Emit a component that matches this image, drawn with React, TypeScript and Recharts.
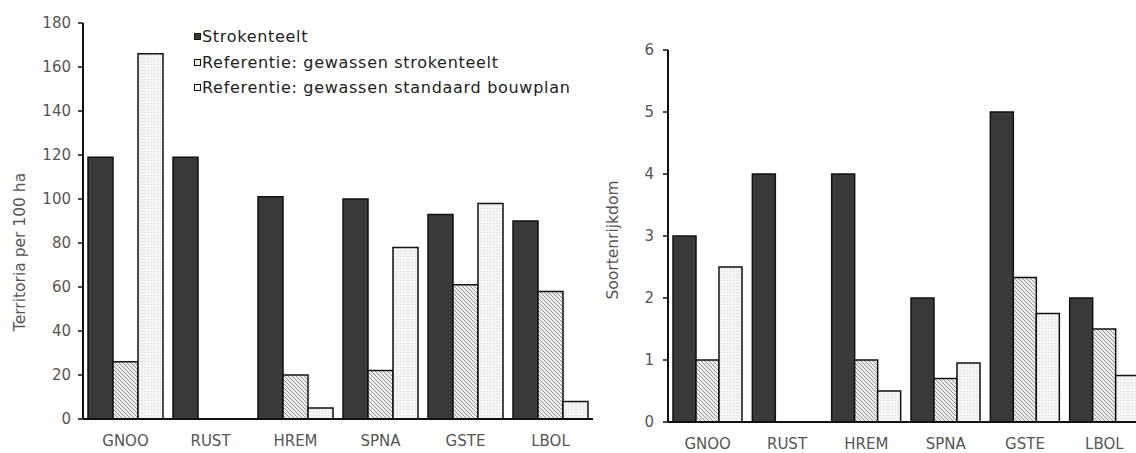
import React from 'react';
import { BarChart, Bar, XAxis, YAxis } from 'recharts';

const CATEGORIES = ['GNOO', 'RUST', 'HREM', 'SPNA', 'GSTE', 'LBOL'];

// territoria per 100 ha
const TERR_STROKEN = [119, 119, 101, 100, 93, 90];
const TERR_REF_STROKEN = [26, null, 20, 22, 61, 58];
const TERR_REF_STANDAARD = [166, null, 5, 78, 98, 8];
const TERR_TICKS = [0, 20, 40, 60, 80, 100, 120, 140, 160, 180];

// soortenrijkdom
const SOORT_STROKEN = [3, 4, 4, 2, 5, 2];
const SOORT_REF_STROKEN = [1, null, 1, 0.7, 2.33, 1.5];
const SOORT_REF_STANDAARD = [2.5, null, 0.5, 0.95, 1.75, 0.75];
const SOORT_TICKS = [0, 1, 2, 3, 4, 5, 6];

const SERIES_NAMES = [
  'Strokenteelt',
  'Referentie: gewassen strokenteelt',
  'Referentie: gewassen standaard bouwplan',
];

const terrData = CATEGORIES.map((c, i) => ({
  cat: c, a: TERR_STROKEN[i], b: TERR_REF_STROKEN[i], c: TERR_REF_STANDAARD[i],
}));
const soortData = CATEGORIES.map((c, i) => ({
  cat: c, a: SOORT_STROKEN[i], b: SOORT_REF_STROKEN[i], c: SOORT_REF_STANDAARD[i],
}));

const FONT = '"DejaVu Sans", Verdana, sans-serif';
const TEXT = '#555';

function Patterns({ id }: { id: string }) {
  return (
    <defs>
      <pattern id={`hatch-${id}`} patternUnits="userSpaceOnUse" width="4" height="4">
        <rect width="4" height="4" fill="#ececec" />
        <path d="M-1,-1 L5,5 M-1,3 L1,5 M3,-1 L5,1" stroke="#8a8a8a" strokeWidth="0.9" />
      </pattern>
      <pattern id={`dots-${id}`} patternUnits="userSpaceOnUse" width="3" height="3">
        <rect width="3" height="3" fill="#f4f4f4" />
        <rect x="1" y="1" width="1" height="1" fill="#dcdcdc" />
      </pattern>
    </defs>
  );
}

function AxisTitle({ x, y, text }: { x: number; y: number; text: string }) {
  return (
    <text x={x} y={y} transform={`rotate(-90 ${x} ${y})`} textAnchor="middle"
      dominantBaseline="central" fontFamily={FONT} fontSize={15.5} fill={TEXT}>
      {text}
    </text>
  );
}

function LegendBox() {
  const marks = ['#3a3a3a', '#ececec', '#f6f6f6'];
  return (
    <div style={{ position: 'absolute', left: 194, top: 24, fontFamily: FONT, fontSize: 16, color: '#222' }}>
      {SERIES_NAMES.map((n, i) => (
        <div key={n} style={{ display: 'flex', alignItems: 'center', height: 25.5, whiteSpace: 'nowrap' }}>
          <span style={{
            display: 'inline-block', width: 5, height: 5, background: marks[i],
            border: '1.5px solid #111', marginRight: 1,
          }} />
          <span style={{ letterSpacing: 0.7 }}>{n}</span>
        </div>
      ))}
    </div>
  );
}

const barStroke = { stroke: '#111', strokeWidth: 1.5 };

export default function App() {
  return (
    <div style={{ position: 'absolute', left: 0, top: 0, width: 1136, height: 453, overflow: 'hidden', background: '#fff' }}>
      <div style={{ position: 'absolute', left: 0, top: 0 }}>
        <BarChart width={600} height={453} data={terrData} margin={{ top: 23, right: 7, bottom: 0, left: 0 }}
          barCategoryGap={5} barGap={0}>
          <Patterns id="t" />
          <XAxis dataKey="cat" height={34} tickLine={false} tickSize={0} tickMargin={16}
            axisLine={{ stroke: '#111', strokeWidth: 2 }}
            tick={{ fontFamily: FONT, fontSize: 15, fill: TEXT }} interval={0} />
          <YAxis width={83} domain={[0, 180]} ticks={TERR_TICKS} interval={0} tickSize={5} tickMargin={7}
            axisLine={{ stroke: '#111', strokeWidth: 2 }} tickLine={{ stroke: '#111', strokeWidth: 1.5 }}
            tick={{ fontFamily: FONT, fontSize: 15, fill: TEXT }}
            label={{ content: () => <AxisTitle x={20} y={252} text="Territoria per 100 ha" /> }} />
          <Bar dataKey="a" fill="#3a3a3a" {...barStroke} isAnimationActive={false} />
          <Bar dataKey="b" fill="url(#hatch-t)" {...barStroke} isAnimationActive={false} />
          <Bar dataKey="c" fill="url(#dots-t)" {...barStroke} isAnimationActive={false} />
        </BarChart>
        <LegendBox />
      </div>
      <div style={{ position: 'absolute', left: 600, top: 0 }}>
        <BarChart width={600} height={453} data={soortData} margin={{ top: 50, right: 56, bottom: 0, left: 0 }}
          barCategoryGap={5} barGap={0}>
          <Patterns id="s" />
          <XAxis dataKey="cat" height={31} tickLine={false} tickSize={0} tickMargin={16}
            axisLine={{ stroke: '#111', strokeWidth: 2 }}
            tick={{ fontFamily: FONT, fontSize: 15, fill: TEXT }} interval={0} />
          <YAxis width={68} domain={[0, 6]} ticks={SOORT_TICKS} interval={0} tickSize={5} tickMargin={9}
            axisLine={{ stroke: '#111', strokeWidth: 2 }} tickLine={{ stroke: '#111', strokeWidth: 1.5 }}
            tick={{ fontFamily: FONT, fontSize: 15, fill: TEXT }}
            label={{ content: () => <AxisTitle x={13} y={240} text="Soortenrijkdom" /> }} />
          <Bar dataKey="a" fill="#3a3a3a" {...barStroke} isAnimationActive={false} />
          <Bar dataKey="b" fill="url(#hatch-s)" {...barStroke} isAnimationActive={false} />
          <Bar dataKey="c" fill="url(#dots-s)" {...barStroke} isAnimationActive={false} />
        </BarChart>
      </div>
    </div>
  );
}
